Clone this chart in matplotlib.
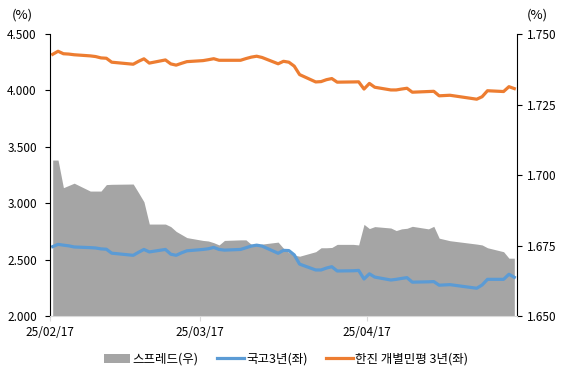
import pandas as pd
import matplotlib
matplotlib.use("Agg")
import matplotlib.pyplot as plt
import matplotlib.dates as mdates
from matplotlib.patches import Patch
from matplotlib.lines import Line2D

plt.rcParams["font.family"] = ["Noto Sans CJK KR", "DejaVu Sans"]

dates = [
    "2025-02-17", "2025-02-18", "2025-02-19", "2025-02-20", "2025-02-21",
    "2025-02-24", "2025-02-25", "2025-02-26", "2025-02-27", "2025-02-28",
    "2025-03-04", "2025-03-05", "2025-03-06", "2025-03-07",
    "2025-03-10", "2025-03-11", "2025-03-12", "2025-03-13", "2025-03-14",
    "2025-03-17", "2025-03-18", "2025-03-19", "2025-03-20", "2025-03-21",
    "2025-03-24", "2025-03-25", "2025-03-26", "2025-03-27", "2025-03-28",
    "2025-03-31",
    "2025-04-01", "2025-04-02", "2025-04-03", "2025-04-04",
    "2025-04-07", "2025-04-08", "2025-04-09", "2025-04-10", "2025-04-11",
    "2025-04-14", "2025-04-15", "2025-04-16", "2025-04-17", "2025-04-18",
    "2025-04-21", "2025-04-22", "2025-04-23", "2025-04-24", "2025-04-25",
    "2025-04-28", "2025-04-29", "2025-04-30",
    "2025-05-02",
    "2025-05-07", "2025-05-08", "2025-05-09",
    "2025-05-12", "2025-05-13", "2025-05-14",
]

# 한진 개별민평 3년 (left axis, %)
hanjin = [
    4.320, 4.347, 4.325, 4.322, 4.316, 4.306, 4.300, 4.288, 4.285, 4.250,
    4.232, 4.258, 4.280, 4.242,
    4.270, 4.235, 4.224, 4.240, 4.255,
    4.264, 4.272, 4.281, 4.267, 4.267,
    4.267, 4.282, 4.295, 4.303, 4.292,
    4.236,
    4.258, 4.250, 4.215, 4.140,
    4.075, 4.078, 4.095, 4.105, 4.073,
    4.075, 4.076, 4.012, 4.062, 4.028,
    4.004, 4.004, 4.012, 4.019, 3.984,
    3.990, 3.992, 3.952,
    3.957,
    3.922, 3.944, 3.997,
    3.990, 4.033, 4.016,
]

# 국고 3년 (left axis, %)
ktb = [
    2.615, 2.635, 2.628, 2.622, 2.612, 2.606, 2.603, 2.595, 2.592, 2.557,
    2.538, 2.565, 2.590, 2.568,
    2.590, 2.548, 2.538, 2.560, 2.578,
    2.590, 2.596, 2.608, 2.590, 2.584,
    2.590, 2.605, 2.620, 2.628, 2.620,
    2.556,
    2.582, 2.580, 2.542, 2.460,
    2.408, 2.408, 2.425, 2.437, 2.399,
    2.401, 2.404, 2.328, 2.374, 2.345,
    2.319, 2.325, 2.333, 2.340, 2.300,
    2.303, 2.305, 2.273,
    2.278,
    2.246, 2.275, 2.325,
    2.325, 2.370, 2.343,
]

# 스프레드 (right axis, %)
spread = [
    1.7053, 1.7053, 1.6955, 1.6963, 1.6971, 1.6943, 1.6943, 1.6943, 1.6966, 1.6967,
    1.6968, 1.6937, 1.6905, 1.6826,
    1.6826, 1.6817, 1.6800, 1.6789, 1.6778,
    1.6768, 1.6766, 1.6760, 1.6752, 1.6768,
    1.6770, 1.6770, 1.6754, 1.6752, 1.6755,
    1.6762,
    1.6740, 1.6725, 1.6716, 1.6712,
    1.6728, 1.6742, 1.6742, 1.6743, 1.6754,
    1.6754, 1.6752, 1.6825, 1.6810, 1.6817,
    1.6812, 1.6803, 1.6809, 1.6811, 1.6818,
    1.6809, 1.6818, 1.6776,
    1.6767,
    1.6755, 1.6752, 1.6742,
    1.6728, 1.6705, 1.6705,
]

x = pd.to_datetime(dates) + pd.Timedelta(hours=12)

GRAY = "#A5A5A5"
BLUE = "#5B9BD5"
ORANGE = "#ED7D31"

fig = plt.figure(figsize=(5.67, 3.78), dpi=100)
ax1 = fig.add_axes([50 / 567, 1 - 316 / 378, 467 / 567, 282 / 378])
ax2 = ax1.twinx()

# area behind the lines
ax1.set_zorder(ax2.get_zorder() + 1)
ax1.patch.set_visible(False)

ax2.fill_between(x, 1.65, spread, color=GRAY, linewidth=0)
ax1.plot(x, ktb, color=BLUE, linewidth=2.3, solid_joinstyle="round")
ax1.plot(x, hanjin, color=ORANGE, linewidth=2.3, solid_joinstyle="round")

ax1.set_ylim(2.0, 4.5)
ax1.set_yticks([2.0, 2.5, 3.0, 3.5, 4.0, 4.5])
ax1.yaxis.set_major_formatter(matplotlib.ticker.FormatStrFormatter("%.3f"))
ax2.set_ylim(1.65, 1.75)
ax2.set_yticks([1.650, 1.675, 1.700, 1.725, 1.750])
ax2.yaxis.set_major_formatter(matplotlib.ticker.FormatStrFormatter("%.3f"))

ax1.set_xlim(pd.Timestamp("2025-02-17"), pd.Timestamp("2025-05-15"))
ax1.set_xticks(pd.to_datetime(["2025-02-17", "2025-03-17", "2025-04-17"]))
ax1.xaxis.set_major_formatter(mdates.DateFormatter("%y/%m/%d"))

for s in ["top", "right"]:
    ax1.spines[s].set_visible(False)
for s in ["top", "left", "bottom"]:
    ax2.spines[s].set_visible(False)
ax1.spines["left"].set_color("black")
ax1.spines["bottom"].set_color("#D9D9D9")
ax2.spines["right"].set_color("black")

ax1.tick_params(axis="y", length=3.5, width=0.8, pad=6, labelsize=8.5, colors="black")
ax2.tick_params(axis="y", length=3.5, width=0.8, pad=4, labelsize=8.5, colors="black")
ax1.tick_params(axis="x", length=3.5, width=0.8, color="#D9D9D9", pad=4, labelsize=8.5)

fig.text(22 / 567, 1 - 15 / 378, "(%)", ha="center", va="center", fontsize=9.5)
fig.text(537 / 567, 1 - 15 / 378, "(%)", ha="center", va="center", fontsize=9.5)

handles = [
    Patch(facecolor=GRAY, edgecolor="none"),
    Line2D([0], [0], color=BLUE, linewidth=2.3),
    Line2D([0], [0], color=ORANGE, linewidth=2.3),
]
labels = ["스프레드(우)", "국고3년(좌)", "한진 개별민평 3년(좌)"]
fig.legend(handles, labels, loc="center", bbox_to_anchor=(286 / 567, 1 - 359 / 378),
           ncol=3, frameon=False, fontsize=9, handlelength=2.1,
           handletextpad=0.2, columnspacing=1.5)

fig.savefig("out.png", dpi=100)
